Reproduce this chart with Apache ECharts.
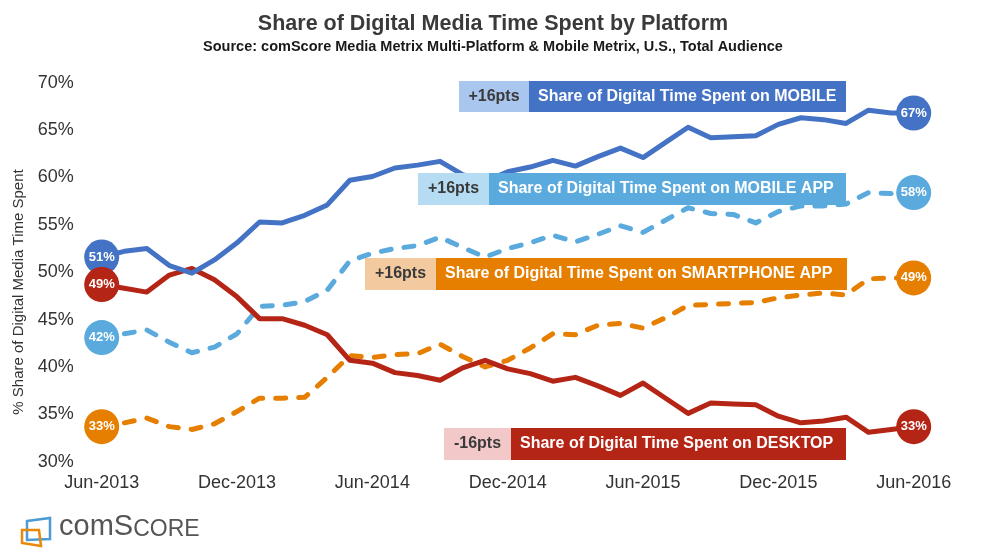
<!DOCTYPE html>
<html>
<head>
<meta charset="utf-8">
<script src="https://cdn.jsdelivr.net/npm/echarts@6/dist/echarts.min.js"></script>
<style>
html,body{margin:0;padding:0;background:#fff;}
#chart{width:994px;height:553px;}
</style>
</head>
<body>
<div id="chart"></div>
<script>
// ---- Data ----
var months = ['Jun-2013','Jul-2013','Aug-2013','Sep-2013','Oct-2013','Nov-2013','Dec-2013',
  'Jan-2014','Feb-2014','Mar-2014','Apr-2014','May-2014','Jun-2014','Jul-2014','Aug-2014','Sep-2014','Oct-2014','Nov-2014','Dec-2014',
  'Jan-2015','Feb-2015','Mar-2015','Apr-2015','May-2015','Jun-2015','Jul-2015','Aug-2015','Sep-2015','Oct-2015','Nov-2015','Dec-2015',
  'Jan-2016','Feb-2016','Mar-2016','Apr-2016','May-2016','Jun-2016'];
var tickLabels = ['Jun-2013','Dec-2013','Jun-2014','Dec-2014','Jun-2015','Dec-2015','Jun-2016'];

var mobile = [51.6,52.2,52.5,50.7,49.9,51.3,53.1,55.3,55.2,56.0,57.1,59.7,60.1,61.0,61.3,61.7,60.3,59.6,60.6,61.1,61.8,61.2,62.2,63.1,62.1,63.7,65.3,64.2,64.3,64.4,65.6,66.3,66.1,65.7,67.1,66.8,66.8];
var mobileApp = [43.1,43.5,43.9,42.6,41.5,42.1,43.5,46.4,46.5,46.9,48.1,51.2,52.0,52.5,52.8,53.7,52.6,51.6,52.5,53.1,53.9,53.2,54.0,54.9,54.2,55.5,56.8,56.2,56.1,55.2,56.4,57.0,57.0,57.2,58.4,58.3,58.4];
var smartphoneApp = [33.7,34.1,34.6,33.7,33.4,34.0,35.3,36.7,36.7,36.8,38.9,41.2,41.0,41.3,41.4,42.4,41.1,40.0,40.7,42.0,43.5,43.4,44.4,44.6,44.1,45.2,46.5,46.6,46.7,46.8,47.3,47.6,47.8,47.6,49.3,49.4,49.4];
var desktop = [48.7,48.3,47.9,49.7,50.4,49.2,47.4,45.1,45.1,44.4,43.4,40.7,40.4,39.4,39.1,38.6,39.9,40.7,39.8,39.3,38.5,38.9,38.0,37.0,38.3,36.7,35.1,36.2,36.1,36.0,34.8,34.1,34.3,34.7,33.1,33.4,33.7];

var seriesNames = ['MOBILE','MOBILE APP','SMARTPHONE APP','DESKTOP'];
var startLabels = ['51%','42%','33%','49%'];
var endLabels = ['67%','58%','49%','33%'];
var changeLabels = ['+16pts','+16pts','+16pts','-16pts'];
var yTicks = [30,35,40,45,50,55,60,65,70];

// ---- Styles ----
var darkColors = ['#4472C4','#5AAADD','#E67E00','#B52516'];
var lightColors = ['#A9C6EE','#B5DCF2','#F3C9A0','#F3C8C8'];
var allData = [mobile, mobileApp, smartphoneApp, desktop];
var dashed = [false, true, true, false];
var FONT = '"Liberation Sans", Arial, Helvetica, sans-serif';

var chart = echarts.init(document.getElementById('chart'));

var series = [];
allData.forEach(function (arr, k) {
  series.push({
    name: seriesNames[k],
    type: 'line',
    data: arr,
    symbol: 'none',
    z: 2 + (k === 0 ? 1 : 0),
    lineStyle: {
      color: darkColors[k], width: 5,
      type: dashed[k] ? [10, 13] : 'solid',
      cap: dashed[k] ? 'round' : 'butt',
      join: 'round'
    },
    silent: true,
    animation: false
  });
});
allData.forEach(function (arr, k) {
  var last = arr.length - 1;
  series.push({
    type: 'scatter',
    data: [
      {value: [0, arr[0]], label: {formatter: startLabels[k]}},
      {value: [last, arr[last]], label: {formatter: endLabels[k]}}
    ],
    symbol: 'circle',
    symbolSize: 35,
    z: 10,
    itemStyle: {color: darkColors[k], opacity: 1},
    label: {
      show: true, position: 'inside', color: '#fff',
      fontFamily: FONT, fontWeight: 'bold', fontSize: 13
    },
    silent: true,
    animation: false
  });
});

// annotation boxes: [lightX, splitX, rightX, topY, bottomY]
var boxes = [
  [459, 529, 846, 81, 112],
  [418, 489, 846, 173, 205],
  [365, 436, 847, 258, 290],
  [444, 511, 846, 428, 460]
];
var graphics = [];
boxes.forEach(function (b, k) {
  graphics.push({type: 'rect', shape: {x: b[0], y: b[3], width: b[1] - b[0], height: b[4] - b[3]},
    style: {fill: lightColors[k]}, z: 20});
  graphics.push({type: 'rect', shape: {x: b[1], y: b[3], width: b[2] - b[1], height: b[4] - b[3]},
    style: {fill: darkColors[k]}, z: 20});
  graphics.push({type: 'text', x: (b[0] + b[1]) / 2, y: (b[3] + b[4]) / 2, z: 21,
    style: {text: changeLabels[k], fill: '#3a3a3a', font: 'bold 16px ' + FONT, align: 'center', verticalAlign: 'middle'}});
  graphics.push({type: 'text', x: b[1] + 9, y: (b[3] + b[4]) / 2, z: 21,
    style: {text: 'Share of Digital Time Spent on ' + seriesNames[k], fill: '#fff', font: 'bold 16px ' + FONT, align: 'left', verticalAlign: 'middle'}});
});
// y-axis title
graphics.push({type: 'text', x: 19, y: 292, rotation: Math.PI / 2, z: 5,
  style: {text: '% Share of Digital Media Time Spent', fill: '#333', font: '15px ' + FONT, align: 'center', verticalAlign: 'middle'}});
// comScore logo
graphics.push({type: 'polygon', shape: {points: [[27, 521], [50, 518], [50, 539], [27, 540]]},
  style: {fill: 'none', stroke: '#4A9BD6', lineWidth: 2.5}, z: 5});
graphics.push({type: 'polygon', shape: {points: [[22, 530], [39, 530], [41, 546], [22, 543]]},
  style: {fill: 'none', stroke: '#E8890C', lineWidth: 2.5}, z: 6});
graphics.push({type: 'text', x: 59, y: 541, z: 5,
  style: {
    text: '{a|com}{b|S}{c|CORE}', verticalAlign: 'bottom', align: 'left',
    rich: {
      a: {fontFamily: FONT, fontSize: 29, fill: '#555', verticalAlign: 'bottom'},
      b: {fontFamily: FONT, fontSize: 29, fill: '#555', verticalAlign: 'bottom'},
      c: {fontFamily: FONT, fontSize: 23, fill: '#555', verticalAlign: 'bottom'}
    }
  }});

chart.setOption({
  animation: false,
  backgroundColor: '#fff',
  title: {
    text: 'Share of Digital Media Time Spent by Platform',
    subtext: 'Source: comScore Media Metrix Multi-Platform & Mobile Metrix, U.S., Total Audience',
    left: 488, top: 8, textAlign: 'center', itemGap: 4,
    textStyle: {fontFamily: FONT, fontWeight: 'bold', fontSize: 21.5, color: '#3a3a3a'},
    subtextStyle: {fontFamily: FONT, fontWeight: 'bold', fontSize: 14.5, color: '#1a1a1a'}
  },
  grid: {left: 101.7, right: 80.3, top: 82.7, bottom: 91.3, containLabel: false},
  xAxis: {
    type: 'category', data: months, boundaryGap: false,
    axisLine: {show: false}, axisTick: {show: false}, splitLine: {show: false},
    axisLabel: {
      interval: 0, margin: 12, color: '#333', fontFamily: FONT, fontSize: 18,
      formatter: function (v) { return tickLabels.indexOf(v) >= 0 ? v : ''; }
    }
  },
  yAxis: {
    type: 'value', min: yTicks[0], max: yTicks[yTicks.length - 1], interval: 5,
    axisLine: {show: false}, axisTick: {show: false}, splitLine: {show: false},
    axisLabel: {margin: 28, color: '#333', fontFamily: FONT, fontSize: 18, formatter: '{value}%'}
  },
  series: series,
  graphic: graphics
});
</script>
</body>
</html>
